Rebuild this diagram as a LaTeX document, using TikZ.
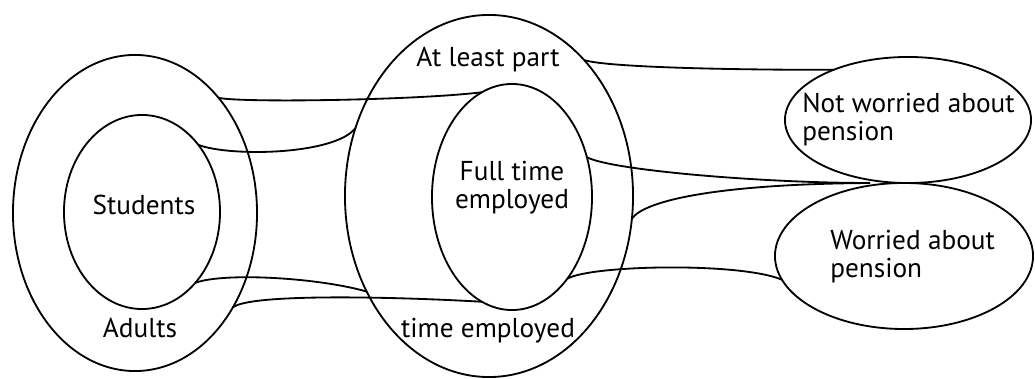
\documentclass[tikz,border=0pt]{standalone}
\usepackage{fontspec}
\setmainfont{PT Sans}
\usetikzlibrary{shapes.geometric}
\begin{document}
\begin{tikzpicture}[x=0.025cm,y=-0.025cm,
  set/.style={draw, ellipse, inner sep=0pt, outer sep=0pt, line width=1.3pt},
  lbl/.style={font=\fontsize{19.4}{20}\selectfont, inner sep=0pt},
  link/.style={line width=1.3pt}]
\useasboundingbox (0,0) rectangle (1035,379);
% sets
\node[set, minimum width=6.1cm, minimum height=7.9cm] (adults) at (135,213) {};
\node[set, minimum width=3.9cm, minimum height=4.85cm] (students) at (142,212) {};
\node[set, minimum width=7.2cm, minimum height=9.05cm] (atleast) at (489,196) {};
\node[set, minimum width=4.0cm, minimum height=5.65cm] (ft) at (512,197) {};
\node[set, minimum width=6.15cm, minimum height=3.15cm] (notw) at (908,120) {};
\node[set, minimum width=6.45cm, minimum height=3.65cm] (worried) at (904,256) {};
\coordinate (j) at (870,183);
% labels
\node[lbl, anchor=base] (tstudents) at (144,215) {Students};
\node[lbl, anchor=base] (tadults) at (140,338) {Adults};
\node[lbl, anchor=base] (tatleast) at (488,67) {At least part};
\node[lbl, anchor=base] (ttime) at (488,338) {time employed};
\node[lbl, anchor=base, align=center] (tft) at (512,209) {Full time\\employed};
\node[lbl, anchor=base west, align=left] (tnotw) at (802,141) {Not worried about\\pension};
\node[lbl, anchor=base west, align=left] (tworried) at (830,278) {Worried about\\pension};
% connectors
\draw[link] (adults.54.5) .. controls (245,103) and (420,100) .. (ft.106.6);
\draw[link] (students.50.1) .. controls (230,157) and (335,155) .. (atleast.153.4);
\draw[link] (students.307.8) .. controls (225,272) and (320,278) .. (atleast.218.7);
\draw[link] (adults.316.8) .. controls (250,293) and (400,297) .. (ft.254.6);
\draw[link] (atleast.55.6) .. controls (610,68) and (750,70) .. (notw.146.3);
\draw[link] (ft.28.1) .. controls (610,170) and (760,183) .. (j);
\draw[link] (atleast.351.7) .. controls (645,200) and (720,184) .. (j);
\draw[link] (ft.304.5) .. controls (590,265) and (740,262) .. (worried.191);
\end{tikzpicture}
\end{document}
